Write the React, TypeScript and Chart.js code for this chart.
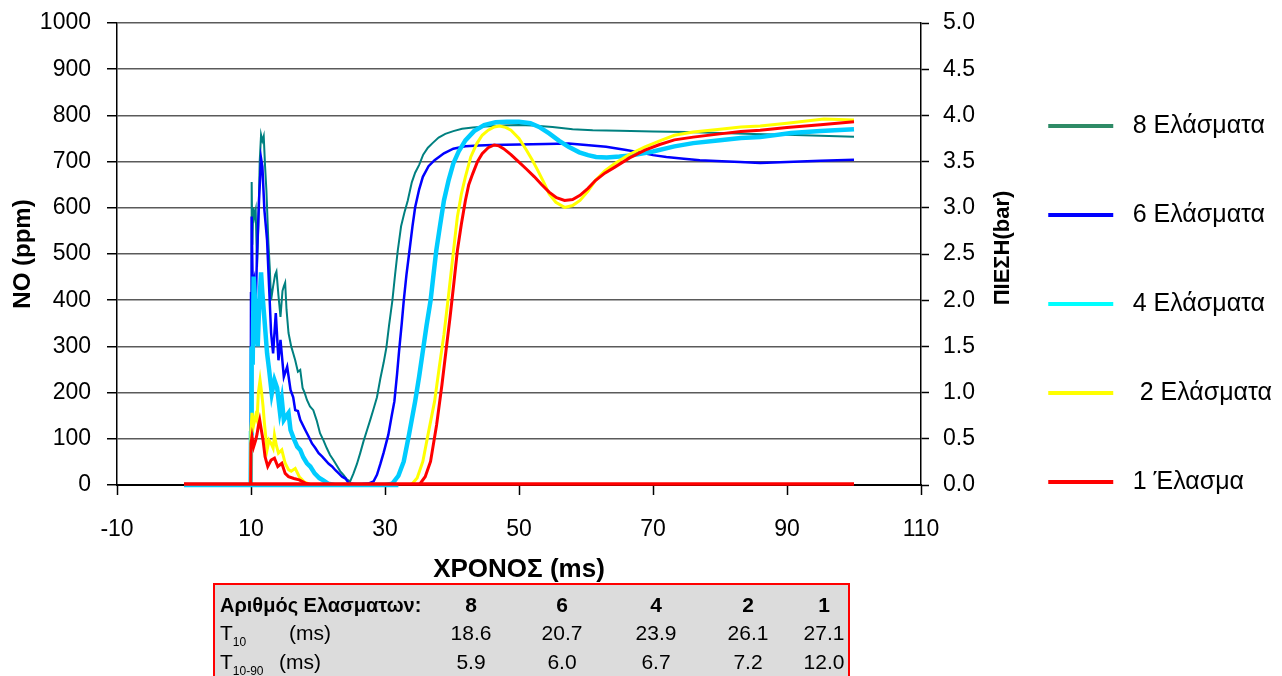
import React, { useEffect, useRef } from "react";
import { Chart, registerables } from "chart.js";

Chart.register(...registerables);

const FONT = 'Arial, "Liberation Sans", Helvetica, sans-serif';

// ---- Data (time in ms, NO in ppm) ----
const t8 = [0, 9.95, 10.0, 10.1, 10.2, 10.35, 10.5, 10.7, 10.9, 11.1, 11.3, 11.5, 11.7, 11.9, 12.1, 12.3, 12.6, 12.8, 13.0, 13.3, 13.6, 13.8, 14.1, 14.4, 14.7, 14.9, 15.1, 15.3, 15.6, 16.0, 16.3, 16.6, 17.0, 17.35, 17.7, 18.0, 18.35, 18.8, 19.3, 19.8, 20.3, 20.8, 21.3, 21.8, 22.3, 22.8, 23.3, 23.8, 24.3, 24.8, 25.3, 25.8, 26.3, 26.8, 27.3, 27.8, 28.3, 28.8, 29.3, 29.8, 30.2, 30.6, 31.1, 31.5, 31.9, 32.4, 32.9, 33.4, 34.0, 34.5, 35.1, 35.7, 36.4, 37.1, 38.0, 39.0, 40.2, 41.5, 43.1, 45, 47.5, 50, 52, 55, 58, 61, 65, 70, 75, 80, 85, 90, 95, 100];
const no8 = [0, 0, 300, 656, 520, 600, 580, 595, 472, 560, 700, 758, 745, 755, 690, 638, 523, 470, 400, 430, 455, 462, 410, 364, 420, 430, 438, 380, 329, 300, 285, 270, 245, 249, 210, 200, 184, 170, 162, 140, 112, 97, 80, 65, 54, 42, 30, 22, 12, 8, 25, 45, 69, 95, 118, 141, 165, 190, 230, 265, 297, 345, 399, 455, 507, 560, 590, 616, 655, 676, 693, 715, 730, 740, 752, 760, 766, 771, 774, 776, 778, 779, 778, 775, 770, 768, 767, 765, 764, 762, 760, 758, 756, 754];

const t6 = [0, 9.95, 10.0, 10.1, 10.25, 10.45, 10.7, 10.9, 11.2, 11.5, 11.7, 12.0, 12.4, 12.7, 13.0, 13.3, 13.7, 14.1, 14.4, 14.9, 15.4, 15.9, 16.3, 16.6, 17.0, 17.35, 18.1, 18.6, 19.1, 19.6, 20.1, 20.6, 21.1, 21.6, 22.1, 22.6, 23.1, 23.6, 24.1, 24.6, 25.5, 26.5, 27.5, 28.3, 28.8, 29.3, 29.8, 30.5, 31.0, 31.4, 31.8, 32.1, 32.5, 32.8, 33.2, 33.65, 34.1, 34.5, 35.1, 35.65, 36.5, 37.4, 38.8, 40.2, 42, 44, 46, 50, 54, 57.4, 60, 63, 66, 68, 70, 72, 74.6, 77, 80.3, 83, 86, 90, 95, 100];
const no6 = [0, 0, 415, 581, 430, 444, 386, 500, 617, 707, 689, 595, 530, 429, 329, 285, 372, 270, 314, 234, 256, 206, 190, 162, 160, 141, 119, 105, 90, 80, 69, 62, 54, 46, 40, 32, 25, 18, 14, 4, 2, 2, 3, 8, 22, 45, 70, 109, 150, 181, 240, 290, 350, 399, 455, 507, 560, 601, 640, 667, 690, 703, 718, 728, 733, 735, 736, 737, 738, 739, 736, 732, 725, 720, 714, 710, 706, 703, 701, 699, 697, 699, 702, 704];

const t4 = [0, 9.95, 10.0, 10.1, 10.25, 10.4, 10.6, 10.8, 11.0, 11.2, 11.5, 11.7, 12.0, 12.4, 12.7, 13.1, 13.5, 13.9, 14.3, 14.6, 14.9, 15.3, 15.6, 15.9, 16.4, 16.9, 17.35, 17.8, 18.35, 18.85, 19.5, 20.2, 20.8, 21.5, 22.5, 30, 31.1, 32, 32.8, 33.6, 34.5, 35.1, 35.65, 36.2, 36.8, 37.2, 37.65, 38.2, 38.8, 39.5, 40.2, 41, 42, 43.3, 44.8, 46.5, 48.2, 50, 51.7, 53, 54.5, 56, 57.4, 59, 60.3, 61.5, 63.1, 65, 67.1, 70, 73.2, 76, 80, 83.1, 86, 90.6, 95, 100];
const no4 = [0, 0, 112, 300, 260, 451, 400, 330, 300, 380, 460, 415, 360, 285, 250, 198, 227, 210, 160, 185, 141, 150, 156, 119, 100, 83, 76, 60, 47, 40, 25, 15, 10, 3, 0, 0, 3, 20, 51, 110, 181, 235, 290, 345, 399, 450, 507, 560, 616, 660, 696, 722, 746, 766, 779, 785, 786, 786, 783, 775, 761, 745, 732, 720, 714, 710, 709, 711, 714, 722, 733, 740, 746, 751, 753, 762, 766, 770];

const t2 = [0, 9.95, 10.0, 10.15, 10.4, 10.7, 10.9, 11.1, 11.35, 11.6, 11.8, 12.0, 12.4, 12.7, 13.0, 13.3, 13.5, 13.8, 14.1, 14.6, 15.1, 15.6, 16.0, 16.6, 17.2, 18.0, 19, 33.9, 34.8, 35.65, 36.5, 37.4, 38.1, 38.8, 39.4, 39.95, 40.4, 40.8, 41.4, 42, 42.8, 43.7, 44.5, 45.4, 46.3, 47.1, 48, 48.8, 50, 51.1, 52, 52.8, 53.7, 54.5, 55.5, 56.8, 58, 59.1, 60.3, 61.4, 62.8, 64.3, 66.5, 68.8, 71, 73.2, 76, 80, 83.1, 86, 90, 95.5, 100];
const no2 = [0, 0, 119, 156, 130, 150, 141, 200, 227, 198, 170, 134, 76, 97, 90, 80, 108, 85, 69, 76, 47, 33, 30, 36, 18, 6, 0, 0, 15, 51, 115, 181, 255, 326, 400, 471, 530, 580, 630, 667, 710, 739, 757, 768, 775, 777, 774, 768, 750, 725, 703, 681, 655, 630, 612, 601, 605, 616, 636, 659, 680, 696, 716, 732, 745, 757, 764, 770, 775, 777, 783, 792, 790];

const t1 = [0, 9.95, 10.0, 10.15, 10.4, 10.7, 10.9, 11.1, 11.3, 11.5, 11.8, 12.1, 12.5, 13.0, 13.5, 14.0, 14.6, 15.1, 15.6, 16.4, 17.2, 18.1, 19, 35.1, 36, 36.8, 37.7, 38.5, 39.1, 39.7, 40.3, 40.8, 41.4, 42, 42.5, 43.1, 43.8, 44.5, 45.4, 46.3, 47, 47.7, 48.8, 50, 51.1, 52.3, 53.4, 54.5, 55.6, 56.8, 58, 59.1, 60.3, 61.4, 62.8, 64.3, 66.5, 68.8, 71, 73.2, 76, 80, 83.1, 86, 90, 95, 100];
const no1 = [0, 0, 90, 105, 83, 97, 110, 128, 141, 123, 97, 61, 40, 54, 58, 40, 47, 25, 18, 14, 11, 4, 0, 0, 18, 51, 130, 217, 290, 362, 440, 507, 565, 616, 650, 674, 700, 717, 730, 736, 734, 728, 715, 699, 684, 667, 650, 634, 622, 616, 618, 627, 642, 659, 675, 688, 708, 725, 737, 747, 753, 760, 765, 768, 774, 780, 786];

// pressure traces (bar) lying on the zero line
const pRedT = [0, 100];
const pRed = [0.01, 0.01];
const pCyanT = [0, 32];
const pCyan = [-0.01, -0.01];

const seriesLabels = [" 8 Ελάσματα", " 6 Ελάσματα", " 4 Ελάσματα", "  2 Ελάσματα", " 1 Έλασμα"];
const lineColors = ["#008080", "#0000ff", "#00ccff", "#ffff00", "#ff0000"];
const legendColors = ["#2e8b66", "#0000ff", "#00ffff", "#ffff00", "#ff0000"];
const lineWidths = [2, 2.5, 4.5, 3, 3];

const xTitle = "ΧΡΟΝΟΣ (ms)";
const yTitle = "NO (ppm)";
const y1Title = "ΠΙΕΣΗ(bar)";

const tableHeader = "Αριθμός Ελασματων:";
const tableCounts = ["8", "6", "4", "2", "1"];
const tableT10 = ["18.6", "20.7", "23.9", "26.1", "27.1"];
const tableT1090 = ["5.9", "6.0", "6.7", "7.2", "12.0"];

const pts = (ts: number[], vs: number[]) => ts.map((t, i) => ({ x: t, y: vs[i] }));

const rightTitlePlugin = {
  id: "rightTitle",
  afterDraw(chart: any) {
    const ctx = chart.ctx;
    const a = chart.chartArea;
    ctx.save();
    ctx.translate(1003, (a.top + a.bottom) / 2 - 6);
    ctx.rotate(-Math.PI / 2);
    ctx.font = `bold 22px ${FONT}`;
    ctx.textAlign = "center";
    ctx.textBaseline = "middle";
    ctx.fillStyle = "#000";
    ctx.fillText(y1Title, 0, 0);
    ctx.restore();
  },
};

export default function App() {
  const ref = useRef<HTMLCanvasElement | null>(null);

  useEffect(() => {
    if (!ref.current) return;
    Chart.defaults.font.family = FONT;
    const series = [
      [t8, no8],
      [t6, no6],
      [t4, no4],
      [t2, no2],
      [t1, no1],
    ];
    const datasets: any[] = series.map(([ts, vs], i) => ({
      label: seriesLabels[i],
      data: pts(ts, vs),
      borderColor: lineColors[i],
      backgroundColor: lineColors[i],
      borderWidth: lineWidths[i],
      pointRadius: 0,
      tension: 0,
      yAxisID: "y",
      order: 5 - i,
    }));
    datasets.push({
      label: "p-cyan",
      data: pts(pCyanT, pCyan),
      borderColor: "#00ccff",
      borderWidth: 2.5,
      pointRadius: 0,
      yAxisID: "y1",
      order: 10,
      clip: false,
    });
    datasets.push({
      label: "p-red",
      data: pts(pRedT, pRed),
      borderColor: "#ff0000",
      borderWidth: 3.5,
      pointRadius: 0,
      yAxisID: "y1",
      order: 0,
      clip: false,
    });

    const chart = new Chart(ref.current, {
      type: "line",
      data: { datasets },
      plugins: [rightTitlePlugin],
      options: {
        responsive: false,
        animation: false,
        events: [],
        layout: { padding: { top: 23, bottom: 91, left: 0, right: 0 } },
        plugins: {
          tooltip: { enabled: false },
          legend: {
            position: "right",
            maxWidth: 400,
            labels: {
              boxWidth: 65,
              boxHeight: 4,
              padding: 64,
              color: "#000",
              font: { size: 25, family: FONT },
              generateLabels: () =>
                seriesLabels.map((text, i) => ({
                  text,
                  fillStyle: legendColors[i],
                  strokeStyle: legendColors[i],
                  lineWidth: 0,
                  hidden: false,
                  datasetIndex: i,
                  fontColor: "#000",
                })),
            },
          },
        },
        scales: {
          x: {
            type: "linear",
            min: -10,
            max: 110,
            afterFit: (s: any) => {
              s.height = 100;
            },
            ticks: {
              stepSize: 20,
              color: "#000",
              padding: 21,
              font: { size: 23, family: FONT },
              maxRotation: 0,
            },
            grid: {
              drawOnChartArea: false,
              drawTicks: true,
              tickLength: 10,
              tickColor: "#000",
              tickWidth: 1.5,
            },
            border: { color: "#000", width: 2 },
            title: {
              display: true,
              text: xTitle,
              color: "#000",
              font: { size: 26, weight: "bold", family: FONT },
              padding: { top: 0, bottom: 0 },
            },
          },
          y: {
            type: "linear",
            position: "left",
            min: 0,
            max: 1000,
            afterFit: (s: any) => {
              s.width = 117;
              s.paddingTop = 12;
              s.paddingBottom = 12;
            },
            ticks: {
              stepSize: 100,
              color: "#000",
              padding: 16,
              font: { size: 23, family: FONT },
              callback: (v: any) => String(v),
            },
            grid: {
              color: "#5a5a5a",
              lineWidth: 1.5,
              tickLength: 10,
              tickColor: "#000",
              tickWidth: 1.5,
            },
            border: { color: "#000", width: 1.5 },
            title: {
              display: true,
              text: yTitle,
              color: "#000",
              font: { size: 24, weight: "bold", family: FONT },
              padding: { top: 9, bottom: 0 },
            },
          },
          y1: {
            type: "linear",
            position: "right",
            min: 0,
            max: 5,
            afterFit: (s: any) => {
              const lw = s.chart.legend ? s.chart.legend.width : 299;
              s.width = Math.max(40, 1282 - 921 - lw);
              s.paddingTop = 12;
              s.paddingBottom = 12;
            },
            ticks: {
              stepSize: 0.5,
              color: "#000",
              padding: 14,
              font: { size: 23, family: FONT },
              callback: (v: any) => Number(v).toFixed(1),
            },
            grid: {
              drawOnChartArea: false,
              tickLength: 8,
              tickColor: "#000",
              tickWidth: 1.5,
            },
            border: { color: "#000", width: 1.5 },
          },
        },
      } as any,
    });
    return () => chart.destroy();
  }, []);

  const colCenters = [256, 347, 441, 533, 609];
  const cell = (text: string, center: number, top: number, bold = false, key?: any) => (
    <div
      key={key}
      style={{
        position: "absolute",
        left: center - 35,
        width: 70,
        top,
        height: 26,
        lineHeight: "26px",
        textAlign: "center",
        fontWeight: bold ? "bold" : "normal",
      }}
    >
      {text}
    </div>
  );

  return (
    <div
      style={{
        position: "absolute",
        left: 0,
        top: 0,
        width: 1282,
        height: 676,
        background: "#fff",
        overflow: "hidden",
      }}
    >
      <canvas ref={ref} width={1282} height={676} style={{ display: "block" }} />
      <div
        style={{
          position: "absolute",
          left: 213,
          top: 583,
          width: 637,
          height: 110,
          background: "#dcdcdc",
          border: "2px solid #ff0000",
          boxSizing: "border-box",
          font: `21px ${FONT}`,
          color: "#000",
        }}
      >
        <div style={{ position: "absolute", left: 5, top: 7, height: 26, lineHeight: "26px", fontWeight: "bold", fontSize: 20, whiteSpace: "nowrap" }}>
          {tableHeader}
        </div>
        {tableCounts.map((c, i) => cell(c, colCenters[i], 7, true, "h" + i))}
        <div style={{ position: "absolute", left: 5, top: 35, height: 26, lineHeight: "26px", whiteSpace: "nowrap" }}>
          T<span style={{ fontSize: 12, verticalAlign: -6 }}>10</span>
        </div>
        <div style={{ position: "absolute", left: 74, top: 35, height: 26, lineHeight: "26px" }}>(ms)</div>
        {tableT10.map((c, i) => cell(c, colCenters[i], 35, false, "a" + i))}
        <div style={{ position: "absolute", left: 5, top: 64, height: 26, lineHeight: "26px", whiteSpace: "nowrap" }}>
          T<span style={{ fontSize: 12, verticalAlign: -6 }}>10-90</span>
        </div>
        <div style={{ position: "absolute", left: 64, top: 64, height: 26, lineHeight: "26px" }}>(ms)</div>
        {tableT1090.map((c, i) => cell(c, colCenters[i], 64, false, "b" + i))}
      </div>
    </div>
  );
}
